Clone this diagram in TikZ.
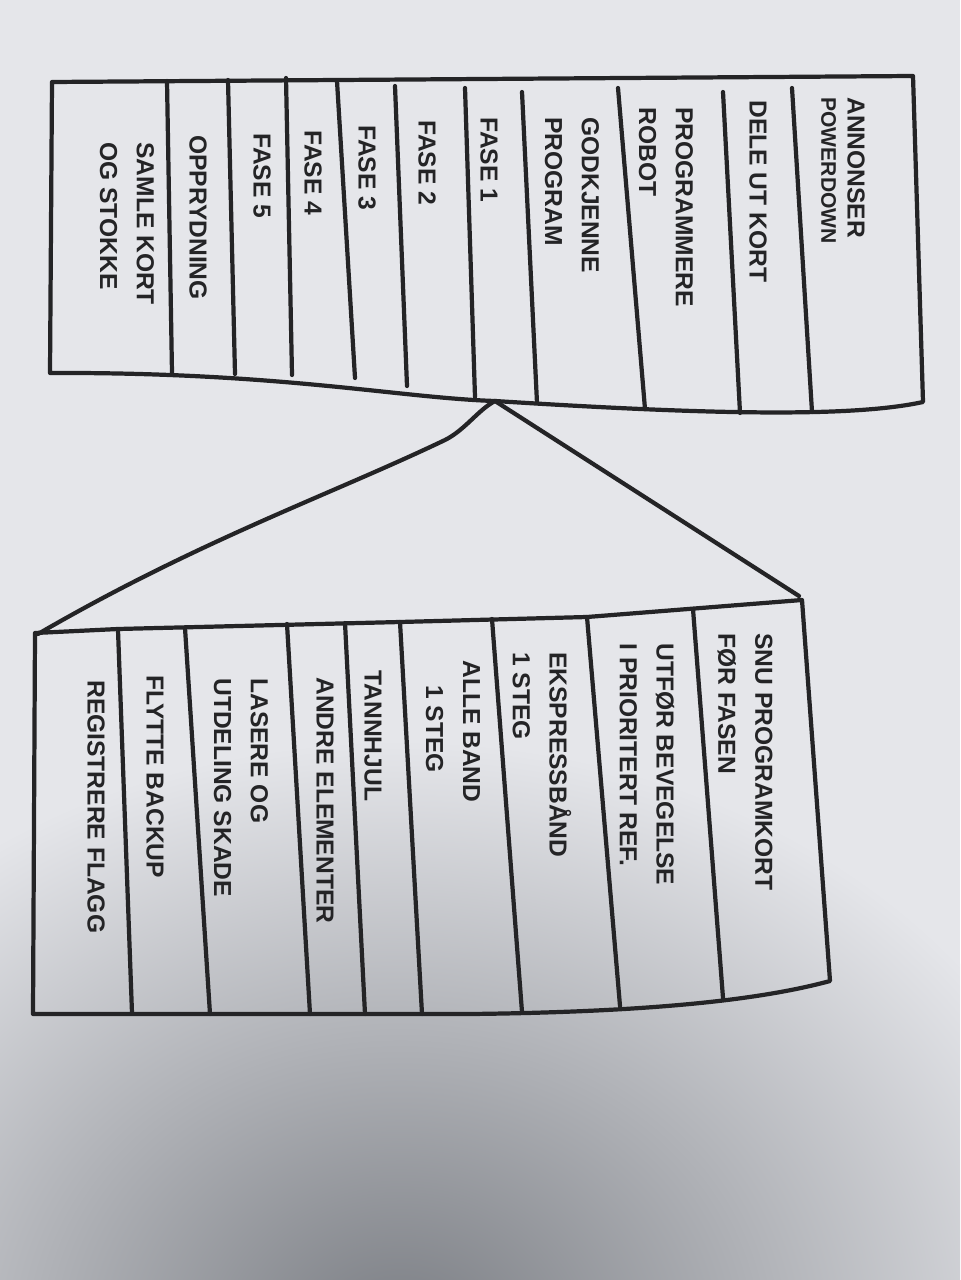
\documentclass[tikz,border=0pt]{standalone}
\usepackage{fontspec}
\setmainfont{Liberation Sans}
\definecolor{ink}{RGB}{36,36,38}
\definecolor{paperTop}{RGB}{229,230,234}
\definecolor{shadow}{RGB}{122,125,131}

\begin{document}
\begin{tikzpicture}[x=0.02cm, y=-0.02cm,
  pen/.style={draw=ink, line width=2.4pt, line cap=round, line join=round},
  col/.style={rotate=-90, anchor=west, inner sep=0pt, align=left, text=ink,
    font=\fontsize{14}{21}\selectfont\bfseries}]

% paper
\useasboundingbox (0,0) rectangle (960,1280);
\fill[paperTop] (0,0) rectangle (960,1280);
\begin{scope}
\clip (0,0) rectangle (960,1280);
\shade[inner color=shadow, outer color=paperTop] (400,1340) ellipse (720 and 600);
\end{scope}

% upper table: the round
\coordinate (apex) at (495,401);
\draw[pen] (52,82) -- (913,76) -- (923,402) .. controls (850,418) and (700,414) .. (apex)
  .. controls (400,398) and (280,372) .. (50,373) -- cycle;
\draw[pen] (167,81) -- (172,373);
\draw[pen] (228,80) -- (235,374);
\draw[pen] (286,78) -- (292,375);
\draw[pen] (337,81) -- (355,378);
\draw[pen] (395,86) -- (407,386);
\draw[pen] (465,88) -- (475,397);
\draw[pen] (522,92) -- (537,403);
\draw[pen] (618,88) -- (645,409);
\draw[pen] (723,92) -- (740,413);
\draw[pen] (792,88) -- (812,412);

\node[col] (annonser) at (843,97) {ANNONSER\\[-6pt]{\fontsize{12}{12}\selectfont POWERDOWN}};
\node[col] (deleut) at (758,100) {DELE UT KORT};
\node[col] (programmere) at (666,107) {PROGRAMMERE\\ROBOT};
\node[col] (godkjenne) at (572,117) {GODKJENNE\\PROGRAM};
\node[col] (fase1) at (489,117) {FASE 1};
\node[col] (fase2) at (427,120) {FASE 2};
\node[col] (fase3) at (367,125) {FASE 3};
\node[col] (fase4) at (313,130) {FASE 4};
\node[col] (fase5) at (262,133) {FASE 5};
\node[col] (opprydning) at (198,135) {OPPRYDNING};
\node[col] (samle) at (127,142) {SAMLE KORT\\OG STOKKE};

% zoom into fase 1
\coordinate (lowTL) at (38,634);
\coordinate (lowTR) at (799,596);
\draw[pen] (apex) .. controls (478,410) and (465,430) .. (445,440)
  .. controls (330,495) and (200,540) .. (lowTL);
\draw[pen] (apex) -- (lowTR);

% lower table: one fase
\draw[pen] (35,633) -- (118,629) -- (400,622) -- (587,617) -- (802,600) -- (830,981)
  .. controls (760,1000) and (650,1012) .. (470,1014) -- (33,1014) -- cycle;
\draw[pen] (118,630) -- (132,1013);
\draw[pen] (185,628) -- (210,1014);
\draw[pen] (287,624) -- (310,1014);
\draw[pen] (345,623) -- (365,1014);
\draw[pen] (400,622) -- (422,1014);
\draw[pen] (492,619) -- (522,1012);
\draw[pen] (587,617) -- (620,1006);
\draw[pen] (693,609) -- (723,998);

\node[col] (snu) at (745,633) {SNU PROGRAMKORT\\FØR FASEN};
\node[col] (utfor) at (647,643) {UTFØR BEVEGELSE\\I PRIORITERT REF.};
\node[col] (ekspress) at (542,652) {EKSPRESSBÅND\\1 STEG};
\node[col] (allebaand) at (453,660) {ALLE BAND\\\hspace*{0.5cm}1 STEG};
\node[col] (tannhjul) at (373,670) {TANNHJUL};
\node[col] (andre) at (325,677) {ANDRE ELEMENTER};
\node[col] (lasere) at (241,678) {LASERE OG\\UTDELING SKADE};
\node[col] (flytte) at (155,675) {FLYTTE BACKUP};
\node[col] (registrere) at (96,680) {REGISTRERE FLAGG};
\end{tikzpicture}
\end{document}
